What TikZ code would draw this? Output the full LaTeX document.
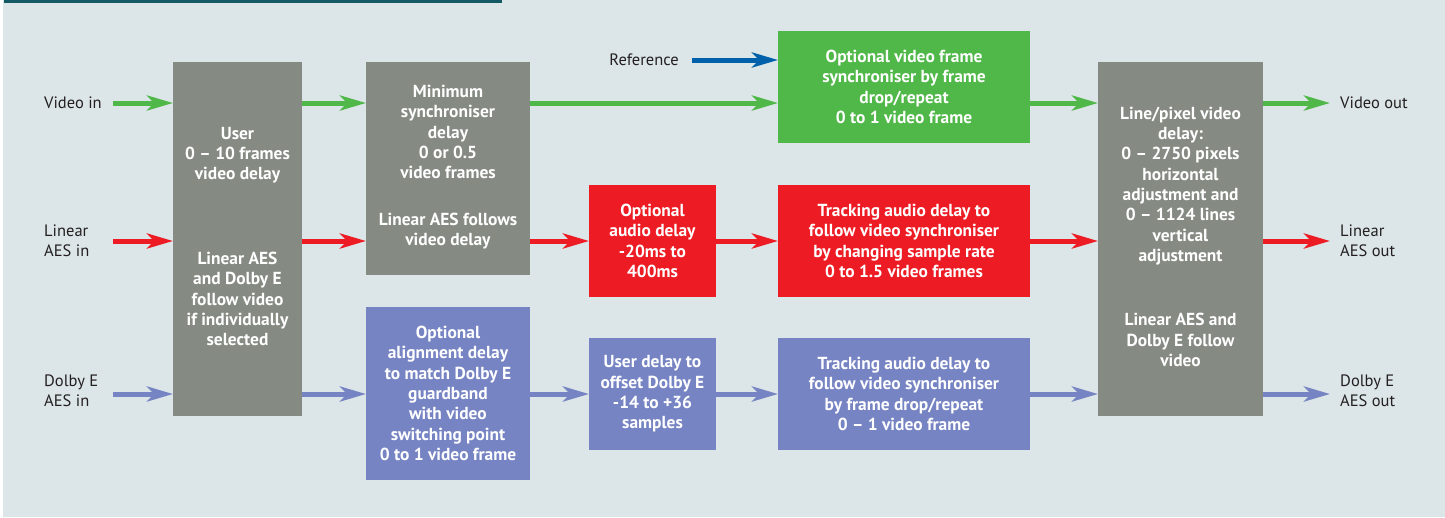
\documentclass[tikz,border=0pt]{standalone}
\usepackage{fontspec}
\setmainfont{PT Sans}
\usetikzlibrary{arrows.meta}
\definecolor{bgc}{HTML}{DCE5E8}
\definecolor{barc}{HTML}{145A64}
\definecolor{greyc}{HTML}{858B82}
\definecolor{greenc}{HTML}{50B848}
\definecolor{redc}{HTML}{ED1C24}
\definecolor{bluec}{HTML}{7684C3}
\definecolor{refc}{HTML}{0061AA}
\definecolor{txtc}{HTML}{231F20}
\tikzset{
  boxx/.style={anchor=north west, inner sep=0pt, outer sep=0pt, text=white,
    font=\fontsize{17.4}{20.3}\selectfont\bfseries, align=center},
  btxt/.style={text=white, font=\fontsize{17.4}{20.3}\selectfont\bfseries, align=center, inner sep=0pt},
  lbl/.style={text=txtc, font=\fontsize{16.5}{20.3}\selectfont, align=left, inner sep=0pt},
  arr/.style={line width=5pt, -{Stealth[length=26pt, width=15pt, inset=7pt]}},
  garr/.style={arr, draw=greenc, color=greenc},
  rarr/.style={arr, draw=redc, color=redc},
  barr/.style={arr, draw=bluec, color=bluec},
  refarr/.style={arr, draw=refc, color=refc},
}
\begin{document}
\begin{tikzpicture}[x=1pt,y=-1pt]
\useasboundingbox (0,0) rectangle (1445,517);
\fill[white] (0,0) rectangle (1445,517);
\fill[bgc] (3,0) rectangle (1445,517);
\fill[barc] (4,0) rectangle (502,3);

% boxes
\node[boxx, fill=greyc, minimum width=129pt, minimum height=354pt] (user) at (173,62) {};
\node[boxx, fill=greyc, minimum width=164pt, minimum height=213pt] (minsync) at (366,62) {};
\node[boxx, fill=greyc, minimum width=165pt, minimum height=354pt] (linepix) at (1098,62) {};
\node[boxx, fill=greenc, minimum width=252pt, minimum height=112pt] (fsync) at (778,31) {Optional video frame\\synchroniser by frame\\drop/repeat\\0 to 1 video frame};
\node[boxx, fill=redc, minimum width=127pt, minimum height=112pt] (adelay) at (589,185) {Optional\\audio delay\\-20ms to\\400ms};
\node[boxx, fill=redc, minimum width=252pt, minimum height=112pt] (rtrack) at (778,185) {Tracking audio delay to\\follow video synchroniser\\by changing sample rate\\0 to 1.5 video frames};
\node[boxx, fill=bluec, minimum width=164pt, minimum height=173pt] (align) at (366,307) {Optional\\alignment delay\\to match Dolby E\\guardband\\with video\\switching point\\0 to 1 video frame};
\node[boxx, fill=bluec, minimum width=127pt, minimum height=112pt] (udelay) at (589,338) {User delay to\\offset Dolby E\\-14 to +36\\samples};
\node[boxx, fill=bluec, minimum width=252pt, minimum height=112pt] (btrack) at (778,338) {Tracking audio delay to\\follow video synchroniser\\by frame drop/repeat\\0 – 1 video frame};

% texts in grey boxes
\node[btxt] (usert1) at (user.center |- 0,155) {User\\0 – 10 frames\\video delay};
\node[btxt] (usert2) at (user.center |- 0,299) {Linear AES\\and Dolby E\\follow video\\if individually\\selected};
\node[btxt] (mint1) at (minsync.center |- 0,132) {Minimum\\synchroniser\\delay\\0 or 0.5\\video frames};
\node[btxt] (mint2) at (minsync.center |- 0,231) {Linear AES follows\\video delay};
\node[btxt] (lpt1) at (linepix.center |- 0,186) {Line/pixel video\\delay:\\0 – 2750 pixels\\horizontal\\adjustment and\\0 – 1124 lines\\vertical\\adjustment};
\node[btxt] (lpt2) at (linepix.center |- 0,340) {Linear AES and\\Dolby E follow\\video};

% labels
\node[lbl, anchor=west] (vin) at (44,103) {Video in};
\node[lbl, anchor=west] (lin) at (44,241) {Linear\\AES in};
\node[lbl, anchor=west] (din) at (44,391) {Dolby E\\AES in};
\node[lbl, anchor=west] (vout) at (1340,103) {Video out};
\node[lbl, anchor=west] (lout) at (1340,241) {Linear\\AES out};
\node[lbl, anchor=west] (dout) at (1340,391) {Dolby E\\AES out};
\node[lbl, anchor=east] (refl) at (679,60) {Reference};

% arrow start/end coordinates
\coordinate (vS) at (113,103);
\coordinate (lS) at (113,241);
\coordinate (dS) at (113,394);
\coordinate (rS) at (692,60);
\coordinate (vE) at (1330,103);
\coordinate (lE) at (1330,241);
\coordinate (dE) at (1330,394);

% video path
\draw[garr] (vS) -- (vS -| user.west);
\draw[garr] (user.east |- vS) -- (minsync.west |- vS);
\draw[garr] (minsync.east |- vS) -- (fsync.west |- vS);
\draw[garr] (fsync.east |- vS) -- (linepix.west |- vS);
\draw[garr] (linepix.east |- vS) -- (vE);
\draw[refarr] (rS) -- (fsync.west |- rS);

% linear path
\draw[rarr] (lS) -- (lS -| user.west);
\draw[rarr] (user.east |- lS) -- (minsync.west |- lS);
\draw[rarr] (minsync.east |- lS) -- (adelay.west |- lS);
\draw[rarr] (adelay.east |- lS) -- (rtrack.west |- lS);
\draw[rarr] (rtrack.east |- lS) -- (linepix.west |- lS);
\draw[rarr] (linepix.east |- lS) -- (lE);

% dolby path
\draw[barr] (dS) -- (dS -| user.west);
\draw[barr] (user.east |- dS) -- (align.west |- dS);
\draw[barr] (align.east |- dS) -- (udelay.west |- dS);
\draw[barr] (udelay.east |- dS) -- (btrack.west |- dS);
\draw[barr] (btrack.east |- dS) -- (linepix.west |- dS);
\draw[barr] (linepix.east |- dS) -- (dE);
\end{tikzpicture}
\end{document}
